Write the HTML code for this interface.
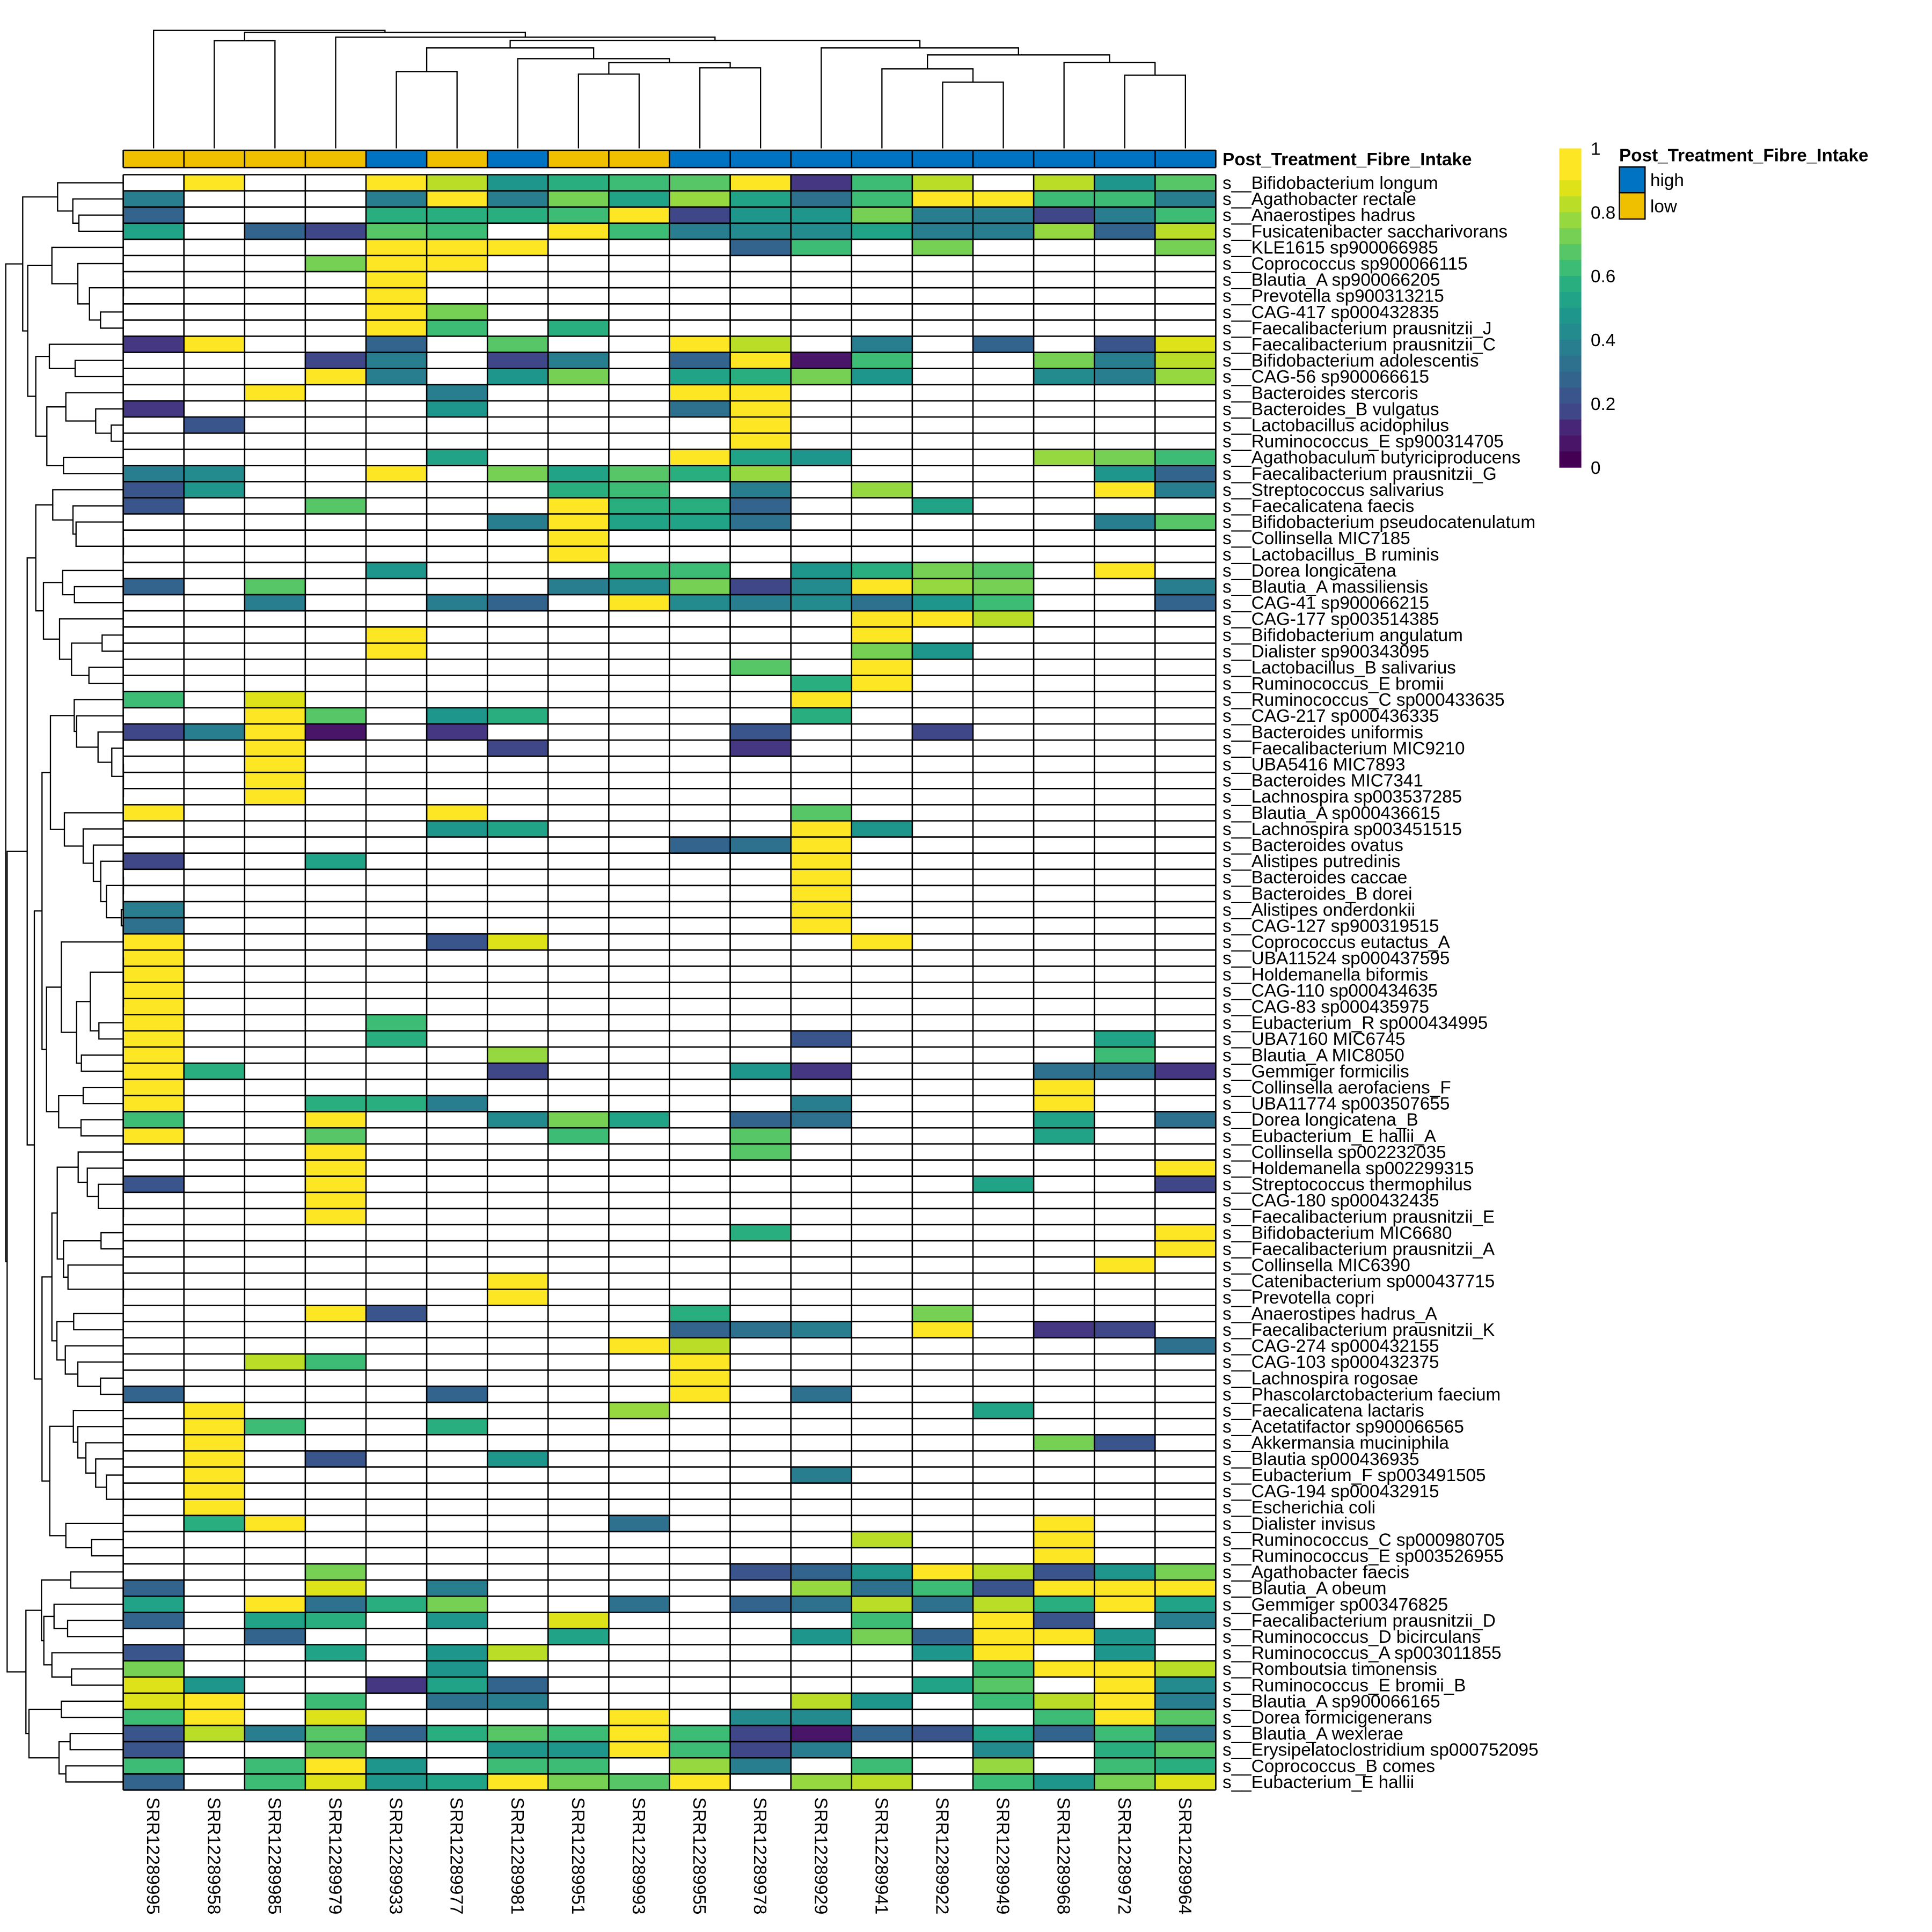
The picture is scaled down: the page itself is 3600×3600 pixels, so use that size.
<!DOCTYPE html>
<html>
<head>
<meta charset="utf-8">
<style>
html,body{margin:0;padding:0;background:#fff;}
svg{display:block;}
text{font-family:"Liberation Sans",Arial,Helvetica,sans-serif;font-size:33.3px;fill:#000;}
.b{font-weight:bold;}
</style>
</head>
<body>
<svg id="s" xmlns="http://www.w3.org/2000/svg" width="3600" height="3600" viewBox="0 0 3600 3600">
<rect x="0" y="0" width="3600" height="3600" fill="#fff"/>
<g id="cells"></g>
<g id="ann"></g>
<path id="grid" fill="none" stroke="#000" stroke-width="2.6"/>
<path id="rden" fill="none" stroke="#000" stroke-width="2.3" stroke-linecap="square"/>
<path id="cden" fill="none" stroke="#000" stroke-width="2.3" stroke-linecap="square"/>
<g id="cbar"></g>

<text class="b" x="2278" y="308.1">Post_Treatment_Fibre_Intake</text>

<text x="2278" y="351.95"><tspan x="2278" y="351.95">s__Bifidobacterium longum</tspan>
<tspan x="2278" dy="30.1">s__Agathobacter rectale</tspan>
<tspan x="2278" dy="30.1">s__Anaerostipes hadrus</tspan>
<tspan x="2278" dy="30.1">s__Fusicatenibacter saccharivorans</tspan>
<tspan x="2278" dy="30.1">s__KLE1615 sp900066985</tspan>
<tspan x="2278" dy="30.1">s__Coprococcus sp900066115</tspan>
<tspan x="2278" dy="30.1">s__Blautia_A sp900066205</tspan>
<tspan x="2278" dy="30.1">s__Prevotella sp900313215</tspan>
<tspan x="2278" dy="30.1">s__CAG-417 sp000432835</tspan>
<tspan x="2278" dy="30.1">s__Faecalibacterium prausnitzii_J</tspan>
<tspan x="2278" dy="30.1">s__Faecalibacterium prausnitzii_C</tspan>
<tspan x="2278" dy="30.1">s__Bifidobacterium adolescentis</tspan>
<tspan x="2278" dy="30.1">s__CAG-56 sp900066615</tspan>
<tspan x="2278" dy="30.1">s__Bacteroides stercoris</tspan>
<tspan x="2278" dy="30.1">s__Bacteroides_B vulgatus</tspan>
<tspan x="2278" dy="30.1">s__Lactobacillus acidophilus</tspan>
<tspan x="2278" dy="30.1">s__Ruminococcus_E sp900314705</tspan>
<tspan x="2278" dy="30.1">s__Agathobaculum butyriciproducens</tspan>
<tspan x="2278" dy="30.1">s__Faecalibacterium prausnitzii_G</tspan>
<tspan x="2278" dy="30.1">s__Streptococcus salivarius</tspan>
<tspan x="2278" dy="30.1">s__Faecalicatena faecis</tspan>
<tspan x="2278" dy="30.1">s__Bifidobacterium pseudocatenulatum</tspan>
<tspan x="2278" dy="30.1">s__Collinsella MIC7185</tspan>
<tspan x="2278" dy="30.1">s__Lactobacillus_B ruminis</tspan>
<tspan x="2278" dy="30.1">s__Dorea longicatena</tspan>
<tspan x="2278" dy="30.1">s__Blautia_A massiliensis</tspan>
<tspan x="2278" dy="30.1">s__CAG-41 sp900066215</tspan>
<tspan x="2278" dy="30.1">s__CAG-177 sp003514385</tspan>
<tspan x="2278" dy="30.1">s__Bifidobacterium angulatum</tspan>
<tspan x="2278" dy="30.1">s__Dialister sp900343095</tspan>
<tspan x="2278" dy="30.1">s__Lactobacillus_B salivarius</tspan>
<tspan x="2278" dy="30.1">s__Ruminococcus_E bromii</tspan>
<tspan x="2278" dy="30.1">s__Ruminococcus_C sp000433635</tspan>
<tspan x="2278" dy="30.1">s__CAG-217 sp000436335</tspan>
<tspan x="2278" dy="30.1">s__Bacteroides uniformis</tspan>
<tspan x="2278" dy="30.1">s__Faecalibacterium MIC9210</tspan>
<tspan x="2278" dy="30.1">s__UBA5416 MIC7893</tspan>
<tspan x="2278" dy="30.1">s__Bacteroides MIC7341</tspan>
<tspan x="2278" dy="30.1">s__Lachnospira sp003537285</tspan>
<tspan x="2278" dy="30.1">s__Blautia_A sp000436615</tspan>
<tspan x="2278" dy="30.1">s__Lachnospira sp003451515</tspan>
<tspan x="2278" dy="30.1">s__Bacteroides ovatus</tspan>
<tspan x="2278" dy="30.1">s__Alistipes putredinis</tspan>
<tspan x="2278" dy="30.1">s__Bacteroides caccae</tspan>
<tspan x="2278" dy="30.1">s__Bacteroides_B dorei</tspan>
<tspan x="2278" dy="30.1">s__Alistipes onderdonkii</tspan>
<tspan x="2278" dy="30.1">s__CAG-127 sp900319515</tspan>
<tspan x="2278" dy="30.1">s__Coprococcus eutactus_A</tspan>
<tspan x="2278" dy="30.1">s__UBA11524 sp000437595</tspan>
<tspan x="2278" dy="30.1">s__Holdemanella biformis</tspan>
<tspan x="2278" dy="30.1">s__CAG-110 sp000434635</tspan>
<tspan x="2278" dy="30.1">s__CAG-83 sp000435975</tspan>
<tspan x="2278" dy="30.1">s__Eubacterium_R sp000434995</tspan>
<tspan x="2278" dy="30.1">s__UBA7160 MIC6745</tspan>
<tspan x="2278" dy="30.1">s__Blautia_A MIC8050</tspan>
<tspan x="2278" dy="30.1">s__Gemmiger formicilis</tspan>
<tspan x="2278" dy="30.1">s__Collinsella aerofaciens_F</tspan>
<tspan x="2278" dy="30.1">s__UBA11774 sp003507655</tspan>
<tspan x="2278" dy="30.1">s__Dorea longicatena_B</tspan>
<tspan x="2278" dy="30.1">s__Eubacterium_E hallii_A</tspan>
<tspan x="2278" dy="30.1">s__Collinsella sp002232035</tspan>
<tspan x="2278" dy="30.1">s__Holdemanella sp002299315</tspan>
<tspan x="2278" dy="30.1">s__Streptococcus thermophilus</tspan>
<tspan x="2278" dy="30.1">s__CAG-180 sp000432435</tspan>
<tspan x="2278" dy="30.1">s__Faecalibacterium prausnitzii_E</tspan>
<tspan x="2278" dy="30.1">s__Bifidobacterium MIC6680</tspan>
<tspan x="2278" dy="30.1">s__Faecalibacterium prausnitzii_A</tspan>
<tspan x="2278" dy="30.1">s__Collinsella MIC6390</tspan>
<tspan x="2278" dy="30.1">s__Catenibacterium sp000437715</tspan>
<tspan x="2278" dy="30.1">s__Prevotella copri</tspan>
<tspan x="2278" dy="30.1">s__Anaerostipes hadrus_A</tspan>
<tspan x="2278" dy="30.1">s__Faecalibacterium prausnitzii_K</tspan>
<tspan x="2278" dy="30.1">s__CAG-274 sp000432155</tspan>
<tspan x="2278" dy="30.1">s__CAG-103 sp000432375</tspan>
<tspan x="2278" dy="30.1">s__Lachnospira rogosae</tspan>
<tspan x="2278" dy="30.1">s__Phascolarctobacterium faecium</tspan>
<tspan x="2278" dy="30.1">s__Faecalicatena lactaris</tspan>
<tspan x="2278" dy="30.1">s__Acetatifactor sp900066565</tspan>
<tspan x="2278" dy="30.1">s__Akkermansia muciniphila</tspan>
<tspan x="2278" dy="30.1">s__Blautia sp000436935</tspan>
<tspan x="2278" dy="30.1">s__Eubacterium_F sp003491505</tspan>
<tspan x="2278" dy="30.1">s__CAG-194 sp000432915</tspan>
<tspan x="2278" dy="30.1">s__Escherichia coli</tspan>
<tspan x="2278" dy="30.1">s__Dialister invisus</tspan>
<tspan x="2278" dy="30.1">s__Ruminococcus_C sp000980705</tspan>
<tspan x="2278" dy="30.1">s__Ruminococcus_E sp003526955</tspan>
<tspan x="2278" dy="30.1">s__Agathobacter faecis</tspan>
<tspan x="2278" dy="30.1">s__Blautia_A obeum</tspan>
<tspan x="2278" dy="30.1">s__Gemmiger sp003476825</tspan>
<tspan x="2278" dy="30.1">s__Faecalibacterium prausnitzii_D</tspan>
<tspan x="2278" dy="30.1">s__Ruminococcus_D bicirculans</tspan>
<tspan x="2278" dy="30.1">s__Ruminococcus_A sp003011855</tspan>
<tspan x="2278" dy="30.1">s__Romboutsia timonensis</tspan>
<tspan x="2278" dy="30.1">s__Ruminococcus_E bromii_B</tspan>
<tspan x="2278" dy="30.1">s__Blautia_A sp900066165</tspan>
<tspan x="2278" dy="30.1">s__Dorea formicigenerans</tspan>
<tspan x="2278" dy="30.1">s__Blautia_A wexlerae</tspan>
<tspan x="2278" dy="30.1">s__Erysipelatoclostridium sp000752095</tspan>
<tspan x="2278" dy="30.1">s__Coprococcus_B comes</tspan>
<tspan x="2278" dy="30.1">s__Eubacterium_E hallii</tspan></text>

<text transform="translate(286.15,3349) rotate(90)" y="11.9">SRR12289995</text>
<text transform="translate(399.25,3349) rotate(90)" y="11.9">SRR12289958</text>
<text transform="translate(512.35,3349) rotate(90)" y="11.9">SRR12289985</text>
<text transform="translate(625.45,3349) rotate(90)" y="11.9">SRR12289979</text>
<text transform="translate(738.55,3349) rotate(90)" y="11.9">SRR12289933</text>
<text transform="translate(851.65,3349) rotate(90)" y="11.9">SRR12289977</text>
<text transform="translate(964.75,3349) rotate(90)" y="11.9">SRR12289981</text>
<text transform="translate(1077.85,3349) rotate(90)" y="11.9">SRR12289951</text>
<text transform="translate(1190.95,3349) rotate(90)" y="11.9">SRR12289993</text>
<text transform="translate(1304.05,3349) rotate(90)" y="11.9">SRR12289955</text>
<text transform="translate(1417.15,3349) rotate(90)" y="11.9">SRR12289978</text>
<text transform="translate(1530.25,3349) rotate(90)" y="11.9">SRR12289929</text>
<text transform="translate(1643.35,3349) rotate(90)" y="11.9">SRR12289941</text>
<text transform="translate(1756.45,3349) rotate(90)" y="11.9">SRR12289922</text>
<text transform="translate(1869.55,3349) rotate(90)" y="11.9">SRR12289949</text>
<text transform="translate(1982.65,3349) rotate(90)" y="11.9">SRR12289968</text>
<text transform="translate(2095.75,3349) rotate(90)" y="11.9">SRR12289972</text>
<text transform="translate(2208.85,3349) rotate(90)" y="11.9">SRR12289964</text>

<text x="2964" y="288.4">1</text>
<text x="2964" y="407.3">0.8</text>
<text x="2964" y="526.2">0.6</text>
<text x="2964" y="645.1">0.4</text>
<text x="2964" y="764">0.2</text>
<text x="2964" y="882.9">0</text>

<text class="b" x="3017" y="300.5">Post_Treatment_Fibre_Intake</text>
<rect x="3017.5" y="311.2" width="47.8" height="48" fill="#0073C2" stroke="#000" stroke-width="2.4"/>
<rect x="3017.5" y="359.2" width="47.8" height="49" fill="#EFC000" stroke="#000" stroke-width="2.4"/>
<text x="3075" y="347">high</text>
<text x="3075" y="395.6">low</text>
</svg>
<script>
(function(){
var NS="http://www.w3.org/2000/svg";
var X0=229.6, CW=113.1, Y0=325.5, RH=30.1, NC=18, NR=100;
var C={E:"#440154",F:"#481568",G:"#482677",H:"#453781",I:"#3F4788",J:"#39558C",K:"#32648E",M:"#2D718E",N:"#287D8E",O:"#238A8D",P:"#1F968B",Q:"#20A386",R:"#29AF7F",S:"#3CBC75",T:"#56C667",U:"#75D054",V:"#95D840",W:"#BADE28",X:"#DDE318",Y:"#FDE725"};
var D=[
".Y..YWPRSTYHSW.WPT","N...NYNUQVQMSYYSSN","K...RRRSYIPPUNNINS","Q.KITS.YSNOOQNNVKW","....YYY...KS.U...U",
"...UYY............","....Y.............","....Y.............","....YU............","....YS.R..........",
"HY..K.T..YW.N.K.JX","...IN.IN.KYFS..UNW","...YN.PU.QRUP..ONV","..Y..N...YY.......","H....P...MY.......",
".J........Y.......","..........Y.......",".....Q...YQP...VUS","NO..Y.UQTRV.....PK","JP.....RS.N.V...YN",
"J..T...YRRK..Q....","......NYQQM.....NT",".......Y..........",".......Y..........","....P...SS.PRUT.Y.",
"K.T....NOUIOYVU..N","..N..NK.YONOMPS..K","............YYW...","....Y.......Y.....","....Y.......UP....",
"..........T.Y.....","...........RY.....","S.X........Y......","..YT.PR....R......","INYF.H....J..I....",
"..Y...I...H.......","..Y...............","..Y...............","..Y...............","Y....Y.....T......",
".....PQ....YP.....",".........KMY......","I..Q.......Y......","...........Y......","...........Y......",
"N..........Y......","M..........Y......","Y....JX.....Y.....","Y.................","Y.................",
"Y.................","Y.................","Y...S.............","Y...R......J....Q.","Y.....V.........S.",
"YR....I...PH...MMH","Y..............Y..","Y..RRN.....N...Y..","S..Y..OUQ.KM...Q.M","Y..T...S..T....Q..",
"...Y......T.......","...Y.............Y","J..Y..........Q..I","...Y..............","...Y..............",
"..........R......Y",".................Y","................Y.","......Y...........","......Y...........",
"...YJ....R...U....",".........KMN.Y.HI.","........YW.......M","..WS.....Y........",".........Y........",
"K....K...Y.M......",".Y......V.....Q...",".YS..R............",".Y.............UJ.",".Y.J..P...........",
".Y.........N......",".Y................",".Y................",".RY.....M......Y..","............W..Y..",
"...............Y..","...U......JKPYWJPU","K..X.N.....VMSJYYY","Q.YMRU..M.KMWMWRYQ","K.QR.P.X....S.YJ.N",
"..K....Q...PUKYYP.","J..Q.PW......PY.P.","U....P........SYYW","XP..HQK......QT.YO","XY.S.MN....WP.SWYN",
"SY.X....Y.OO...SYT","JWNTKRTSYSIFKJQKSM","J..T..PPYSIN..O.RT","S.SYP.SS.VN.S.V.SR","K.SXPQYUTY.VW.SPUX"
];
function mk(tag,a,p){var e=document.createElementNS(NS,tag);for(var k in a)e.setAttribute(k,a[k]);p.appendChild(e);return e;}
var cells=document.getElementById("cells");
for(var r=0;r<NR;r++){var s=D[r]||"";for(var c=0;c<NC;c++){var ch=s.charAt(c);if(C[ch]){mk("rect",{x:(X0+c*CW).toFixed(2),y:(Y0+r*RH).toFixed(2),width:CW.toFixed(2),height:RH.toFixed(2),fill:C[ch]},cells);}}}
/* annotation */
var ann=document.getElementById("ann");
var A="LLLLHLHLLHHHHHHHHH", AY0=280, AY1=312.2;
for(var c=0;c<NC;c++){mk("rect",{x:(X0+c*CW).toFixed(2),y:AY0,width:CW.toFixed(2),height:(AY1-AY0).toFixed(2),fill:A.charAt(c)=="H"?"#0073C2":"#EFC000"},ann);}
/* grid */
var X1=X0+NC*CW, Y1=Y0+NR*RH, g="";
for(var r=0;r<=NR;r++){var y=(Y0+r*RH).toFixed(2);g+="M"+X0+" "+y+"H"+X1.toFixed(2);}
for(var c=0;c<=NC;c++){var x=(X0+c*CW).toFixed(2);g+="M"+x+" "+Y0+"V"+Y1.toFixed(2);g+="M"+x+" "+AY0+"V"+AY1;}
g+="M"+X0+" "+AY0+"H"+X1.toFixed(2)+"M"+X0+" "+AY1+"H"+X1.toFixed(2);
document.getElementById("grid").setAttribute("d",g);
/* row dendrogram */
var rt=[10.7,
 [42.3,
  [107.3,1,[135.7,2,[147,3,4]]],
  [51.7,
   [96.7,5,[145,6,[166.7,[230,7,8],[187.3,9,10]]]],
   [66.7,
    [92,11,[140,12,13]],
    [87.3,[122.7,14,[178.3,15,[207.3,16,17]]],[118.3,18,19]]
   ]
  ]
 ],
 [13.3,
  [50.7,
   [66.7,
    [98.3,20,[136,21,[141.7,22,[230,23,24]]]],
    [81,[116.7,25,[138.7,26,27]],[111,28,[133.3,[190.3,29,30],[165.7,31,32]]]]
   ],
   [64,
    [78.3,
     [94,
      [138.3,33,[142.7,34,[182.7,35,[208.3,36,[230,37,[230,38,39]]]]]],
      [120,40,[155,41,[174,42,[187.7,43,[198.3,[230,44,45],[226,46,47]]]]]]
     ],
     [86.7,
      [114.3,48,[142.7,[168.3,[230,49,[230,50,[230,51,52]]],[184.3,53,54]],[151.7,55,56]]],
      [109.3,[155,57,58],[151,59,60]]
     ]
    ],
    [78.3,
     [96.7,
      [106.7,
       [145.7,61,[162.7,62,[183.3,63,[230,64,65]]]],
       [118.3,[188.3,66,67],[126.7,68,[230,69,70]]]
      ],
      [106,[137.3,71,72],[121.7,73,[145,74,[187.3,75,76]]]]
     ],
     [92.7,
      [136.7,77,[145,78,[160,79,[178.3,80,[198.3,81,[230,82,83]]]]]],
      [122.7,84,[170.7,85,86]]
     ]
    ]
   ]
  ],
  [48.3,
   [77.3,[131.7,87,88],[81.7,[100.7,89,[126,90,91]],[96.7,92,[133.3,93,94]]]],
   [54,[114.3,95,96],[110,[130.7,97,98],[122.7,99,100]]]
  ]
 ]
];
var rd="";
function RT(n){if(typeof n=="number")return{x:X0,y:Y0+(n-0.5)*RH};var a=RT(n[1]),b=RT(n[2]),x=n[0];
 rd+="M"+a.x.toFixed(2)+" "+a.y.toFixed(2)+"H"+x+"V"+b.y.toFixed(2)+"H"+b.x.toFixed(2);return{x:x,y:(a.y+b.y)/2};}
RT(rt);
document.getElementById("rden").setAttribute("d",rd);
/* column dendrogram */
var ct=[56.7,1,[60.3,[76,2,3],[69.3,4,[75.3,
  [89.3,[133.3,5,6],[109.3,7,[116.7,[138,8,9],[126.3,10,11]]]],
  [89.3,12,[102.3,[128.3,13,[153,14,15]],[116.3,16,[140,17,18]]]]
 ]]]];
var cd="", LY=275.3;
function CT(n){if(typeof n=="number")return{x:X0+(n-0.5)*CW,y:LY};var a=CT(n[1]),b=CT(n[2]),y=n[0];
 cd+="M"+a.x.toFixed(2)+" "+a.y.toFixed(2)+"V"+y+"H"+b.x.toFixed(2)+"V"+b.y.toFixed(2);return{x:(a.x+b.x)/2,y:y};}
CT(ct);
document.getElementById("cden").setAttribute("d",cd);
/* color bar */
var cb=document.getElementById("cbar"), B="YYXWVUTSRQPONMKJIGFE", bh=594.5/20;
for(var i=0;i<20;i++){mk("rect",{x:2905.5,y:(276.5+i*bh).toFixed(2),width:41.1,height:(bh+0.6).toFixed(2),fill:C[B.charAt(i)]},cb);}
})();
</script>
</body>
</html>
